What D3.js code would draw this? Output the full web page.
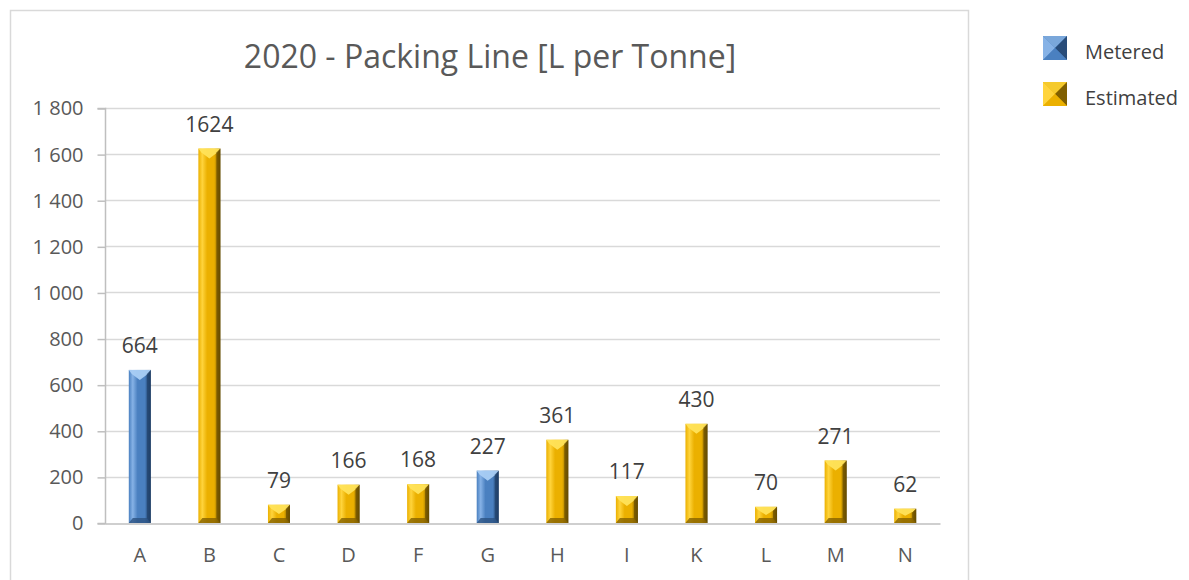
<!DOCTYPE html>
<html>
<head>
<meta charset="utf-8">
<script src="https://cdn.jsdelivr.net/npm/d3@7"></script>
<style>
  html, body { margin: 0; padding: 0; background: #ffffff; }
  svg { display: block; font-family: "Open Sans", "Liberation Sans", sans-serif; }
</style>
</head>
<body>
<svg id="chart" width="1189" height="580"></svg>
<script>
// Packing-line water use per site, 2020
const categories = ["A", "B", "C", "D", "F", "G", "H", "I", "K", "L", "M", "N"];
const values     = [664, 1624, 79, 166, 168, 227, 361, 117, 430, 70, 271, 62];
const seriesKind = ["Metered", "Estimated", "Estimated", "Estimated", "Estimated", "Metered",
                    "Estimated", "Estimated", "Estimated", "Estimated", "Estimated", "Estimated"];
const yTicks     = [0, 200, 400, 600, 800, 1000, 1200, 1400, 1600, 1800];
const legendItems = ["Metered", "Estimated"];
const titleText  = "2020 - Packing Line [L per Tonne]";

const palette = {
  Metered:   { light: "#86b2e6", mid: "#4a80c0", dark: "#1f3f66", top: "#a9cdf4", bottom: "#2c5382" },
  Estimated: { light: "#ffd43c", mid: "#ebb000", dark: "#654b00", top: "#ffe35a", bottom: "#846200" }
};

const svg = d3.select("#chart");
const margin = { left: 105, right: 940, top: 108, bottom: 523 };

const x = d3.scaleBand().domain(categories).range([margin.left, margin.right]).paddingInner(0).paddingOuter(0);
const y = d3.scaleLinear().domain([0, 1800]).range([margin.bottom, margin.top]);
const barW = 22;

// gradients for the bevelled bar bodies
const defs = svg.append("defs");
Object.entries(palette).forEach(([k, c]) => {
  const g = defs.append("linearGradient").attr("id", "body-" + k)
    .attr("x1", "0").attr("x2", "1").attr("y1", "0").attr("y2", "0");
  g.append("stop").attr("offset", "0%").attr("stop-color", c.mid);
  g.append("stop").attr("offset", "18%").attr("stop-color", c.light);
  g.append("stop").attr("offset", "40%").attr("stop-color", c.mid);
  g.append("stop").attr("offset", "72%").attr("stop-color", c.mid);
  g.append("stop").attr("offset", "100%").attr("stop-color", c.dark);
});

// outer chart frame
svg.append("rect").attr("x", 10.5).attr("y", 10.5).attr("width", 958).attr("height", 600)
  .attr("fill", "none").attr("stroke", "#d9d9d9").attr("stroke-width", 1.5);

// title
svg.append("text").attr("x", 490).attr("y", 68).attr("text-anchor", "middle")
  .attr("font-size", 32).attr("fill", "#595959").text(titleText);

// horizontal gridlines
svg.append("g").selectAll("line").data(yTicks.filter(d => d > 0)).join("line")
  .attr("x1", margin.left).attr("x2", margin.right)
  .attr("y1", d => Math.round(y(d)) + 0.5).attr("y2", d => Math.round(y(d)) + 0.5)
  .attr("stroke", "#d9d9d9").attr("stroke-width", 1.5);

// y axis
const yAxis = d3.axisLeft(y).tickValues(yTicks).tickSize(8).tickPadding(14)
  .tickFormat(d => d3.format(",")(d).replace(/,/g, " "));
const gy = svg.append("g").attr("transform", `translate(${margin.left + 0.5},0.5)`).call(yAxis);
gy.select(".domain").attr("stroke", "#bfbfbf").attr("stroke-width", 1.5).attr("d", `M-8,${y(1800)}H0V${y(0)}H-8`);
gy.selectAll(".tick line").attr("stroke", "#bfbfbf").attr("stroke-width", 1.5);
gy.selectAll(".tick text").attr("font-size", 20).attr("fill", "#595959")
  .attr("font-family", "'Open Sans', sans-serif");

// x axis
const xAxis = d3.axisBottom(x).tickSize(0).tickPadding(24);
const gx = svg.append("g").attr("transform", `translate(0,${margin.bottom + 0.5})`).call(xAxis);
gx.select(".domain").attr("stroke", "#bfbfbf").attr("stroke-width", 1.5);
gx.selectAll(".tick text").attr("font-size", 20).attr("fill", "#595959")
  .attr("font-family", "'Open Sans', sans-serif");

// bevelled bars
const bars = svg.append("g").selectAll("g").data(categories.map((c, i) => ({ c, v: values[i], k: seriesKind[i] })))
  .join("g");

bars.each(function (d) {
  const g = d3.select(this);
  const cx = x(d.c) + x.bandwidth() / 2;
  const x0 = cx - barW / 2, x1 = cx + barW / 2;
  const yT = y(d.v), yB = y(0);
  const h = yB - yT;
  const b = Math.min(10, h / 2);
  const col = palette[d.k];
  // body
  g.append("rect").attr("x", x0).attr("y", yT).attr("width", barW).attr("height", h)
    .attr("fill", `url(#body-${d.k})`);
  // top facet (bright wedge)
  g.append("polygon")
    .attr("points", [[x0, yT], [x1, yT], [x1 - 3, yT + b * 0.4], [cx, yT + b], [x0 + 3, yT + b * 0.4]].map(p => p.join(",")).join(" "))
    .attr("fill", col.top).attr("opacity", 0.95);
  // right shade strip
  g.append("polygon")
    .attr("points", [[x1, yT], [x1, yB], [x1 - 4, yB - Math.min(4, b)], [x1 - 4, yT + Math.min(4, b)]].map(p => p.join(",")).join(" "))
    .attr("fill", col.dark).attr("opacity", 0.7);
  // bottom facet
  g.append("polygon")
    .attr("points", [[x0, yB], [x1, yB], [x1 - 4, yB - Math.min(5, b)], [x0 + 4, yB - Math.min(5, b)]].map(p => p.join(",")).join(" "))
    .attr("fill", col.bottom).attr("opacity", 0.8);
  // value label
  g.append("text").attr("x", cx).attr("y", yT - 17).attr("text-anchor", "middle")
    .attr("font-size", 21).attr("fill", "#404040").text(d.v);
});

// legend
const lg = svg.append("g").selectAll("g").data(legendItems).join("g")
  .attr("transform", (d, i) => `translate(1043,${36 + i * 46})`);
lg.each(function (k) {
  const g = d3.select(this);
  const col = palette[k];
  const s = 24;
  g.append("rect").attr("width", s).attr("height", s).attr("fill", col.mid);
  g.append("polygon").attr("points", `0,0 ${s},0 ${s / 2},${s / 2}`).attr("fill", col.top).attr("opacity", 0.5);
  g.append("polygon").attr("points", `0,0 0,${s} ${s / 2},${s / 2}`).attr("fill", col.light);
  g.append("polygon").attr("points", `${s},0 ${s},${s} ${s / 2},${s / 2}`).attr("fill", col.dark).attr("opacity", 0.8);
  g.append("polygon").attr("points", `0,${s} ${s},${s} ${s / 2},${s / 2}`).attr("fill", col.mid);
  g.append("text").attr("x", 42).attr("y", 23).attr("font-size", 20).attr("fill", "#404040").text(k);
});
</script>
</body>
</html>
